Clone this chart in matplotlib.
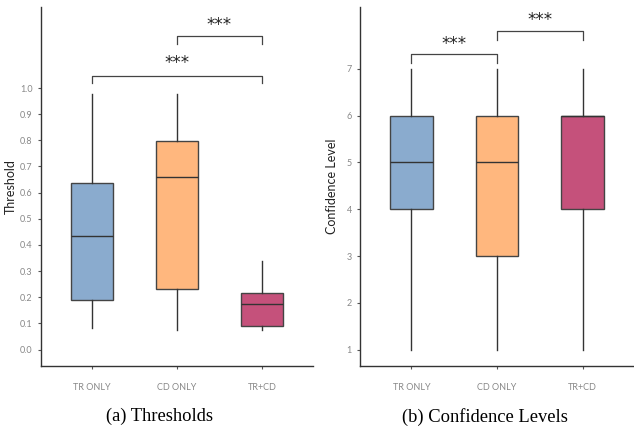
import matplotlib
matplotlib.use("Agg")
import matplotlib.pyplot as plt

groups = ["TR ONLY", "CD ONLY", "TR+CD"]
colors = ["#8AABCE", "#FFB77E", "#C5517B"]

# box stats: whisker low, Q1, median, Q3, whisker high
thr_low = [0.082, 0.073, 0.074]
thr_q1 = [0.189, 0.232, 0.089]
thr_med = [0.436, 0.660, 0.173]
thr_q3 = [0.636, 0.799, 0.217]
thr_high = [0.976, 0.976, 0.340]

conf_low = [1, 1, 1]
conf_q1 = [4, 3, 4]
conf_med = [5, 5, 6]
conf_q3 = [6, 6, 6]
conf_high = [7, 7, 7]

plt.rcParams['font.family'] = ['Lato', 'DejaVu Sans']


def make_stats(lo, q1, med, q3, hi):
    return [dict(whislo=a, q1=b, med=c, q3=d, whishi=e, fliers=[], label=g)
            for a, b, c, d, e, g in zip(lo, q1, med, q3, hi, groups)]


def draw_box(ax, stats):
    bp = ax.bxp(stats, positions=[1, 2, 3], widths=0.5, patch_artist=True,
                showcaps=False,
                boxprops=dict(edgecolor="#444444", linewidth=1.0),
                medianprops=dict(color="#333333", linewidth=1.0),
                whiskerprops=dict(color="#333333", linewidth=1.0))
    for patch, c in zip(bp['boxes'], colors):
        patch.set_facecolor(c)
    ax.set_xlim(0.4, 3.6)
    for s in ['top', 'right']:
        ax.spines[s].set_visible(False)
    for s in ['left', 'bottom']:
        ax.spines[s].set_color("#333333")
        ax.spines[s].set_linewidth(1.0)
    ax.tick_params(axis='both', colors="#555555", labelcolor="#888888",
                   labelsize=6.5, length=2.5, width=0.8)
    ax.tick_params(axis='x', pad=10)


def bracket(ax, x1, x2, y, tip, ty):
    ax.plot([x1, x1, x2, x2], [tip, y, y, tip], color="#444444", lw=0.9)
    ax.text((x1 + x2) / 2, ty, "***", ha='center', va='center',
            fontsize=12, color="#222222", family='DejaVu Sans')


fig = plt.figure(figsize=(6.34, 4.3), dpi=100)
ax1 = fig.add_axes([0.0647, 0.1488, 0.429, 0.835])
ax2 = fig.add_axes([0.568, 0.1488, 0.432, 0.835])

draw_box(ax1, make_stats(thr_low, thr_q1, thr_med, thr_q3, thr_high))
ax1.set_ylim(-0.063, 1.31)
ax1.set_yticks([0.0, 0.1, 0.2, 0.3, 0.4, 0.5, 0.6, 0.7, 0.8, 0.9, 1.0])
ax1.set_yticklabels(["0.0", "0.1", "0.2", "0.3", "0.4", "0.5", "0.6", "0.7", "0.8", "0.9", "1.0"])
ax1.set_ylabel("Threshold", fontsize=9, color="#222222", labelpad=2)
bracket(ax1, 1, 3, 1.046, 1.02, 1.095)
bracket(ax1, 2, 3, 1.199, 1.17, 1.24)

draw_box(ax2, make_stats(conf_low, conf_q1, conf_med, conf_q3, conf_high))
ax2.set_ylim(0.65, 8.32)
ax2.set_yticks([1, 2, 3, 4, 5, 6, 7])
ax2.set_ylabel("Confidence Level", fontsize=9, color="#222222", labelpad=6)
bracket(ax2, 1, 2, 7.31, 7.12, 7.52)
bracket(ax2, 2, 3, 7.8, 7.62, 8.04)

fig.text(0.251, 0.031, "(a) Thresholds", ha='center', va='center',
         fontsize=13.3, family='Liberation Serif')
fig.text(0.765, 0.031, "(b) Confidence Levels", ha='center', va='center',
         fontsize=13.3, family='Liberation Serif')

fig.savefig("out.png", dpi=100)
